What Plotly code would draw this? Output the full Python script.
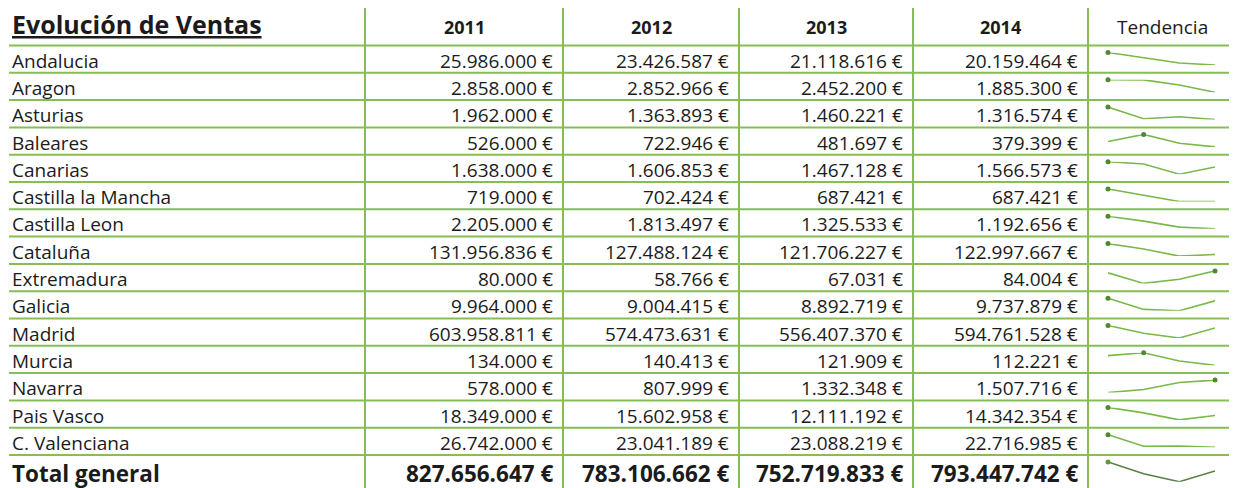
import plotly.graph_objects as go

regions = ["Andalucia", "Aragon", "Asturias", "Baleares", "Canarias", "Castilla la Mancha",
           "Castilla Leon", "Cataluña", "Extremadura", "Galicia", "Madrid", "Murcia",
           "Navarra", "Pais Vasco", "C. Valenciana"]
years = ["2011", "2012", "2013", "2014"]
v2011 = [25986000, 2858000, 1962000, 526000, 1638000, 719000, 2205000, 131956836,
         80000, 9964000, 603958811, 134000, 578000, 18349000, 26742000]
v2012 = [23426587, 2852966, 1363893, 722946, 1606853, 702424, 1813497, 127488124,
         58766, 9004415, 574473631, 140413, 807999, 15602958, 23041189]
v2013 = [21118616, 2452200, 1460221, 481697, 1467128, 687421, 1325533, 121706227,
         67031, 8892719, 556407370, 121909, 1332348, 12111192, 23088219]
v2014 = [20159464, 1885300, 1316574, 379399, 1566573, 687421, 1192656, 122997667,
         84004, 9737879, 594761528, 112221, 1507716, 14342354, 22716985]
totals = [827656647, 783106662, 752719833, 793447742]

series = [v2011, v2012, v2013, v2014]

# page geometry (pixels); the plot div sits 8px in from the page corner
W, H = 1237, 488
OFF = 8
FW, FH = W - OFF, H - OFF
col_edges = [365, 563, 739, 913, 1088, 1236]
top = 6
header_bottom = 45.5
row_h = 27.3
total_h = 36
grid = "#86bd55"
spark = "#7ab84a"
spark_total = "#5a7f45"
font = "Open Sans"
ink = "#1b1b1b"


def eur(v):
    return f"{v:,}".replace(",", ".") + " €"


def fx(px):
    return (px - OFF) / FW


def fy(py):
    return 1 - (py - OFF) / FH


fig = go.Figure()
annotations = []
shapes = []
layout = dict(
    width=FW, height=FH, margin=dict(l=0, r=0, t=0, b=0),
    plot_bgcolor="white", paper_bgcolor="white", showlegend=False,
    xaxis=dict(range=[OFF, W], visible=False, domain=[0, 1], fixedrange=True),
    yaxis=dict(range=[H, OFF], visible=False, domain=[0, 1], fixedrange=True),
)


def text(x, y, s, anchor="left", size=19, bold=False):
    annotations.append(dict(
        x=x, y=y, xref="x", yref="y", text=f"<b>{s}</b>" if bold else s,
        showarrow=False, xanchor=anchor, yanchor="middle",
        font=dict(family=font, size=size, color=ink)))


# header
text(10, 24, "<u>Evolución de Ventas</u>", size=25, bold=True)
for j, yr in enumerate(years):
    text((col_edges[j] + col_edges[j + 1]) / 2, 27, yr, anchor="center", size=18, bold=True)
text((col_edges[4] + col_edges[5]) / 2, 27, "Tendencia", anchor="center", size=19)

rows = [(r, [s[i] for s in series]) for i, r in enumerate(regions)]
rows.append(("Total general", totals))

bottom = H + 10

# grid lines
for x in col_edges:
    shapes.append(dict(type="line", xref="x", yref="y", x0=x, x1=x, y0=top, y1=bottom,
                       line=dict(color=grid, width=2)))

for i, (name, vals) in enumerate(rows):
    is_total = i == len(regions)
    y0 = header_bottom + row_h * i
    h = total_h if is_total else row_h
    shapes.append(dict(type="line", xref="x", yref="y", x0=9, x1=W, y0=y0, y1=y0,
                       line=dict(color=grid, width=2)))
    cy = y0 + h / 2 + (0 if is_total else 1.5)
    size = 22.5 if is_total else 19
    text(10, cy, name, size=size, bold=is_total)
    for j, v in enumerate(vals):
        text(col_edges[j + 1] - 8, cy, eur(v), anchor="right", size=size, bold=is_total)

    # sparkline in its own small axes
    k = i + 2
    lo, hi = min(vals), max(vals)
    s_top = y0 + 7
    s_bot = y0 + (26.7 if is_total else 19.5)
    layout[f"xaxis{k}"] = dict(domain=[fx(1108), fx(1215)], range=[0, 3], visible=False,
                               anchor=f"y{k}", fixedrange=True)
    layout[f"yaxis{k}"] = dict(domain=[fy(s_bot), fy(s_top)], range=[lo, hi],
                               visible=False, anchor=f"x{k}", fixedrange=True)
    xs = list(range(len(years)))
    fig.add_trace(go.Scatter(x=xs, y=vals, mode="lines", xaxis=f"x{k}", yaxis=f"y{k}",
                             line=dict(color=spark_total if is_total else spark, width=1.6),
                             cliponaxis=False, hoverinfo="skip"))
    m = vals.index(hi)
    fig.add_trace(go.Scatter(x=[xs[m]], y=[hi], mode="markers", xaxis=f"x{k}", yaxis=f"y{k}",
                             marker=dict(color="#4f8a2b" if not is_total else "#5f9a3a", size=5),
                             cliponaxis=False, hoverinfo="skip"))

layout["annotations"] = annotations
layout["shapes"] = shapes
fig.update_layout(**layout)
fig.write_html("out.html", config={"displayModeBar": False})
